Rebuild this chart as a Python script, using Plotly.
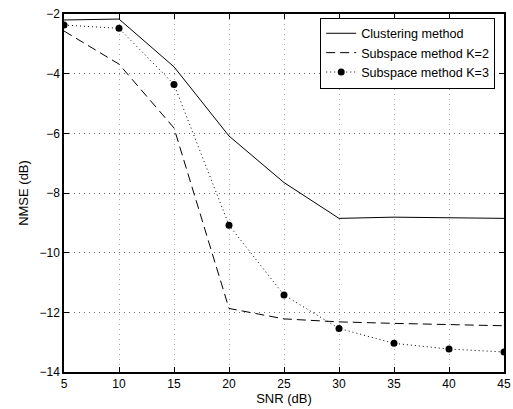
import plotly.graph_objects as go

snr = [5, 10, 15, 20, 25, 30, 35, 40, 45]
clustering = [-2.2, -2.17, -3.77, -6.09, -7.65, -8.85, -8.81, -8.83, -8.85]
subspace_k2 = [-2.57, -3.68, -5.82, -11.87, -12.22, -12.32, -12.37, -12.40, -12.45]
subspace_k3 = [-2.37, -2.48, -4.36, -9.08, -11.42, -12.54, -13.04, -13.23, -13.33]

x_ticks = [5, 10, 15, 20, 25, 30, 35, 40, 45]
y_ticks = [-14, -12, -10, -8, -6, -4, -2]
y_tick_text = ["\u221214", "\u221212", "\u221210", "\u22128", "\u22126", "\u22124", "\u22122"]

fig = go.Figure()
fig.add_trace(go.Scatter(x=snr, y=clustering, mode="lines", name="Clustering method",
                         line=dict(color="black", width=1, dash="solid")))
fig.add_trace(go.Scatter(x=snr, y=subspace_k2, mode="lines", name="Subspace method K=2",
                         line=dict(color="black", width=1, dash="9px,5px")))
fig.add_trace(go.Scatter(x=snr, y=subspace_k3, mode="lines+markers", name="Subspace method K=3",
                         line=dict(color="black", width=1, dash="1px,3px"),
                         marker=dict(color="black", size=7, symbol="circle")))

axis_common = dict(showline=True, linecolor="black", linewidth=1.5, mirror="ticks",
                   ticks="inside", ticklen=5, tickcolor="black", automargin=False,
                   ticklabeloverflow="allow",
                   showgrid=True, griddash="1px,4px", gridwidth=1,
                   zeroline=False, tickfont=dict(family="Liberation Sans, Arial", size=12, color="black"))

fig.update_layout(
    width=513, height=409,
    paper_bgcolor="white", plot_bgcolor="white",
    margin=dict(l=64, r=9, t=14, b=37, autoexpand=False),
    font=dict(family="Liberation Sans, Arial", size=12, color="black"),
    xaxis=dict(range=[5, 45], tickvals=x_ticks, gridcolor="#a8a8a8",
               title=dict(text="SNR (dB)", standoff=1, font=dict(size=13)), **axis_common),
    yaxis=dict(range=[-14, -2], tickvals=y_ticks, ticktext=y_tick_text, gridcolor="#707070",
               title=dict(text="NMSE (dB)", standoff=8, font=dict(size=13)), **axis_common),
    legend=dict(x=0.98, y=0.99, xanchor="right", yanchor="top",
                bgcolor="white", bordercolor="black", borderwidth=1,
                font=dict(size=12.6), tracegroupgap=0, itemwidth=30),
    showlegend=True,
)

# Remove the default 8px page margin so the figure fills the window exactly.
fig.write_html("out.html", config={"displayModeBar": False},
               post_script="document.body.style.margin='0';")
